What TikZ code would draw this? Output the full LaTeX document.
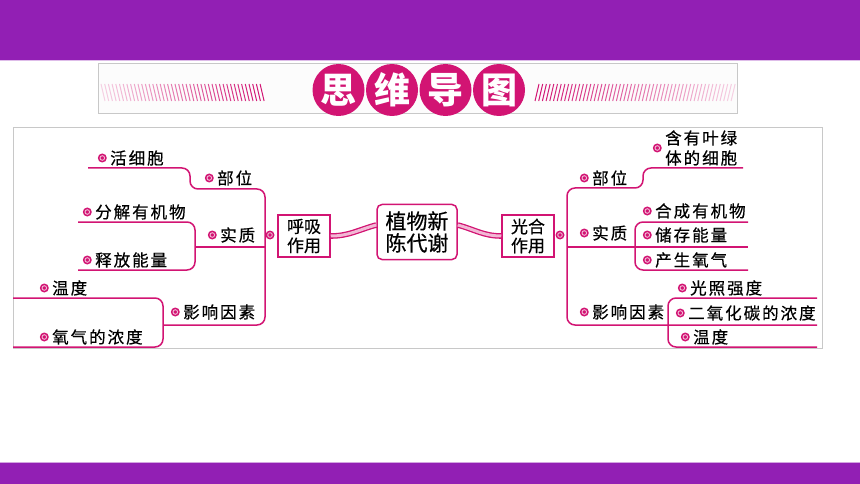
\documentclass[tikz,border=0pt]{standalone}
\usepackage{fontspec}
\setmainfont[FakeBold=0.5]{Noto Sans CJK SC}
\newfontfamily\lblfont[LetterSpace=12,FakeBold=0.5]{Noto Sans CJK SC}
\newfontfamily\ttlfont{Noto Sans CJK SC}
\definecolor{barpurple}{RGB}{146,31,180}
\definecolor{mag}{RGB}{210,20,115}
\definecolor{framegray}{RGB}{200,200,200}
\tikzset{
  bdot/.style={circle, fill=mag, inner sep=0pt, minimum size=9pt,
    path picture={\draw[mag!30, line width=0.9pt] (path picture bounding box.center) circle (2.3pt);}},
  item/.style={anchor=west, inner sep=0pt, align=left, font=\lblfont\fontsize{16.5}{20}\selectfont,
    label={[bdot, label distance=3pt]left:{}}},
  branch/.style={draw=mag, line width=1.5pt, rounded corners=8pt},
  topic/.style={draw=mag, line width=1.5pt, fill=white, align=center, inner sep=0pt,
    minimum width=52pt, minimum height=42pt, font=\fontsize{17}{19}\selectfont},
  root/.style={topic, rounded corners=5pt, minimum width=80pt, minimum height=55pt, font=\fontsize{21}{22}\selectfont},
  link/.style={draw=mag, line width=1.3pt, double=mag!30, double distance=3pt},
  title/.style={circle, fill=mag, minimum size=52pt, inner sep=0pt, text=white, font=\ttlfont\bfseries\fontsize{36}{36}\selectfont},
}
\begin{document}
\begin{tikzpicture}[x=1pt,y=-1pt]
\useasboundingbox (0,0) rectangle (860,484);
\fill[barpurple] (0,0) rectangle (860,60);
\draw[barpurple!30, line width=1pt] (0,60.5) -- (860,60.5);
\fill[barpurple] (0,462) rectangle (860,484);
\draw[barpurple!40, line width=1pt] (0,462) -- (860,462);

\draw[framegray, fill=gray!2, line width=1pt] (98,64) rectangle (737,114);
\foreach \i in {0,...,43} {\pgfmathsetmacro\s{20+80*\i/43}
  \draw[mag!\s, line width=1pt] (101+3.7*\i,84) -- ++(4,17);}
\foreach \i in {0,...,53} {\pgfmathsetmacro\s{100-80*\i/53}
  \draw[mag!\s, line width=1pt] (539+3.7*\i,84) -- ++(-4,17);}
\foreach \ch [count=\i] in {思,维,导,图}
  \node[title] (t\i) at (285+53.5*\i,90) {\ch};

\draw[framegray, line width=1pt] (13,128) rectangle (822,348);

\draw[branch] (88,168) -- (190,168) -- (190,189) -- (265,189) -- (265,325) -- (163,325);
\draw[branch] (78,222) -- (195,222) -- (195,270) -- (78,270);
\draw[branch] (195,247) -- (265,247);
\draw[branch] (13,298) -- (163,298) -- (163,347) -- (13,347);
\draw[branch] (743,168) -- (643,168) -- (643,188) -- (567,188) -- (567,325) -- (817,325);
\draw[branch] (748,222) -- (635,222) -- (635,270) -- (748,270);
\draw[branch] (567,247) -- (748,247);
\draw[branch] (817,298) -- (668,298) -- (668,347) -- (817,347);

\node[topic] (hx) at (304,236) {呼吸\\作用};
\node[root] (zx) at (417,232) {植物新\\陈代谢};
\node[topic] (gh) at (528,236) {光合\\作用};
\node[bdot] (ld) at (270,235) {};
\node[bdot] (rd) at (560,235) {};
\draw[link] (hx.east) to[out=0,in=195] ([yshift=7pt]zx.west);
\draw[link] ([yshift=7pt]zx.east) to[out=-15,in=180] (gh.west);

\node[item] (lbw) at (217,178) {部位};
\node[item] (lsz) at (220,235) {实质};
\node[item] (lyx) at (183,312) {影响因素};
\node[item] (lxb) at (110,158) {活细胞};
\node[item] (lfj) at (95,212) {分解有机物};
\node[item] (lsf) at (95,260) {释放能量};
\node[item] (lwd) at (52,288) {温度};
\node[item] (lyq) at (52,337) {氧气的浓度};

\node[item] (rbw) at (592,178) {部位};
\node[item] (rsz) at (592,233) {实质};
\node[item] (ryx) at (592,312) {影响因素};
\node[item] (rxb) at (665,148) {含有叶绿\\体的细胞};
\node[item] (rhc) at (655,211) {合成有机物};
\node[item] (rcc) at (655,235) {储存能量};
\node[item] (rcs) at (655,260) {产生氧气};
\node[item] (rgz) at (690,288) {光照强度};
\node[item] (reh) at (688,313) {二氧化碳的浓度};
\node[item] (rwd) at (693,337) {温度};
\end{tikzpicture}
\end{document}
